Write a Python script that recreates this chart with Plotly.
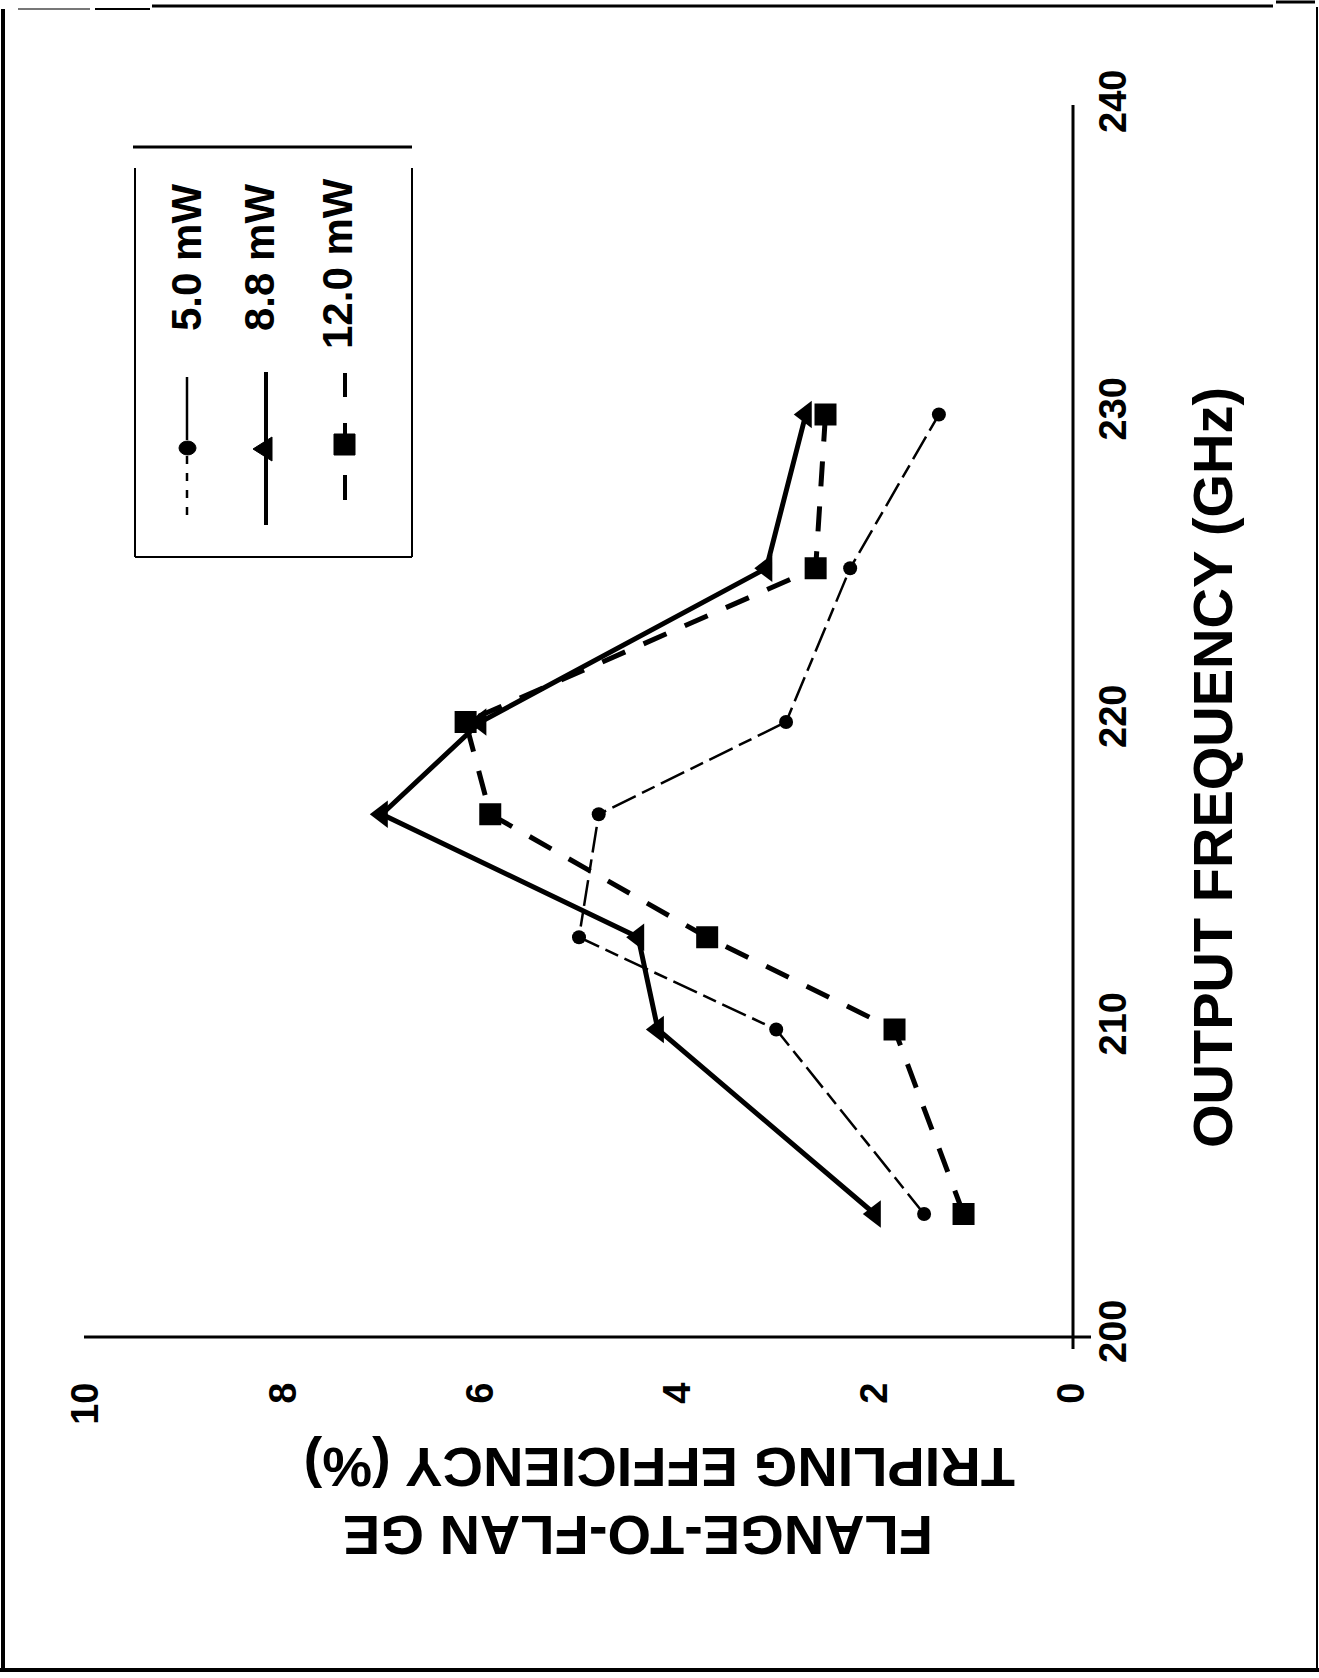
import plotly.graph_objects as go

# Output frequency (GHz) of each measurement
freq_ghz = [204, 210, 213, 217, 220, 225, 230]

# Flange-to-flange tripling efficiency (%) for each pump power
eff_5_0mw = [1.5, 3.0, 5.0, 4.8, 2.9, 2.25, 1.35]
eff_8_8mw = [2.0, 4.2, 4.4, 7.0, 6.0, 3.1, 2.7]
eff_12_0mw = [1.1, 1.8, 3.7, 5.9, 6.15, 2.6, 2.5]

series_names = ["5.0 mW", "8.8 mW", "12.0 mW"]

eff_ticks = [0, 2, 4, 6, 8, 10]
freq_ticks = [200, 210, 220, 230, 240]

FONT = "Liberation Sans, Arial, Helvetica, sans-serif"

# page and plot-area geometry (pixels)
FIG_W, FIG_H = 1319, 1678
PL, PR, PT, PB = 86, 1072, 107, 1337
PW, PH = PR - PL, PB - PT


def fx(px):
    return (px - PL) / PW


def fy(py):
    return (PB - py) / PH


fig = go.Figure()

fig.add_trace(go.Scatter(
    x=eff_5_0mw, y=freq_ghz, name=series_names[0], mode="lines+markers",
    line=dict(color="black", width=2.5, dash="26px,7px,14px,7px"),
    marker=dict(symbol="circle", size=14, color="black"),
))
fig.add_trace(go.Scatter(
    x=eff_8_8mw, y=freq_ghz, name=series_names[1], mode="lines+markers",
    line=dict(color="black", width=5),
    marker=dict(symbol="triangle-left", size=24, color="black"),
))
fig.add_trace(go.Scatter(
    x=eff_12_0mw, y=freq_ghz, name=series_names[2], mode="lines+markers",
    line=dict(color="black", width=5, dash="25px,20px"),
    marker=dict(symbol="square", size=22, color="black"),
))

shapes = []


def seg(x0, y0, x1, y1, width=2, dash=None, color="black"):
    line = dict(color=color, width=width)
    if dash:
        line["dash"] = dash
    shapes.append(dict(type="line", xref="paper", yref="paper",
                       x0=fx(x0), y0=fy(y0), x1=fx(x1), y1=fy(y1), line=line))


# axes, crossing with a small overhang at the origin
seg(84, PB, 1091, PB, width=3)
seg(PR + 1, 1349, PR + 1, 105, width=3)

# page frame
seg(3, 9, 3, 1672, width=4)
seg(0, 1670, FIG_W, 1670, width=4)
seg(152, 6, 1273, 6, width=3)
seg(18, 9, 90, 9, width=2, color="#777777")
seg(95, 9, 150, 9, width=2)
seg(1276, 2, 1315, 2, width=3)
seg(1317, 7, 1317, 1672, width=2)

# legend frame
seg(133, 147, 412, 147, width=3)
seg(135, 168, 135, 557, width=2)
seg(412, 168, 412, 557, width=2)
seg(135, 557, 412, 557, width=2)

# legend keys
seg(187, 377, 187, 440, width=2.5)
seg(187, 456, 187, 523, width=2.5, dash="8px,9px")
shapes.append(dict(type="circle", xref="paper", yref="paper",
                   x0=fx(179), x1=fx(196), y0=fy(455), y1=fy(441),
                   fillcolor="black", line=dict(color="black", width=1)))

seg(266, 372, 266, 525, width=4)
shapes.append(dict(type="path", xref="paper", yref="paper",
                   path=f"M {fx(253)},{fy(449)} L {fx(272)},{fy(437)} L {fx(272)},{fy(461)} Z",
                   fillcolor="black", line=dict(color="black", width=1)))

seg(345, 373, 345, 397, width=4)
seg(345, 423, 345, 436, width=4)
seg(345, 475, 345, 500, width=4)
shapes.append(dict(type="rect", xref="paper", yref="paper",
                   x0=fx(334), x1=fx(355), y0=fy(455), y1=fy(434),
                   fillcolor="black", line=dict(color="black", width=1)))

annotations = []
legend_pos = [(186, 258), (259, 258), (337, 264)]
for name, (lx, ly) in zip(series_names, legend_pos):
    annotations.append(dict(
        text=name, xref="paper", yref="paper", x=fx(lx), y=fy(ly),
        xanchor="center", yanchor="middle", textangle=-90, showarrow=False,
        font=dict(family=FONT, size=42, color="black", weight="bold"),
    ))

# axis titles
annotations.append(dict(
    text="OUTPUT FREQUENCY (GHz)", xref="paper", yref="paper",
    x=fx(1212), y=fy(768), xanchor="center", yanchor="middle",
    textangle=-90, showarrow=False,
    font=dict(family=FONT, size=56, color="black", weight="bold"),
))
annotations.append(dict(
    text="TRIPLING EFFICIENCY (%)", xref="paper", yref="paper",
    x=fx(660), y=fy(1468), xanchor="center", yanchor="middle",
    textangle=180, showarrow=False,
    font=dict(family=FONT, size=56, color="black", weight="bold"),
))
annotations.append(dict(
    text="FLANGE-TO-FLAN GE", xref="paper", yref="paper",
    x=fx(638), y=fy(1536), xanchor="center", yanchor="middle",
    textangle=180, showarrow=False,
    font=dict(family=FONT, size=56, color="black", weight="bold"),
))

fig.update_layout(
    width=FIG_W, height=FIG_H,
    margin=dict(l=PL, r=FIG_W - PR, t=PT, b=FIG_H - PB, pad=0),
    paper_bgcolor="white", plot_bgcolor="white",
    showlegend=False,
    font=dict(family=FONT, color="black"),
    shapes=shapes,
    annotations=annotations,
    xaxis=dict(
        range=[10, 0], tickvals=eff_ticks, ticktext=[str(v) for v in eff_ticks],
        tickangle=-90, ticks="", showline=False, showgrid=False, zeroline=False,
        tickfont=dict(family=FONT, size=38, color="black", weight="bold"),
        ticklabelstandoff=37,
    ),
    yaxis=dict(
        range=[200, 240], side="right", tickvals=freq_ticks,
        ticktext=[str(v) for v in freq_ticks],
        tickangle=-90, ticks="", showline=False, showgrid=False, zeroline=False,
        tickfont=dict(family=FONT, size=38, color="black", weight="bold"),
        ticklabelstandoff=15,
    ),
)

fig.write_html("out.html")
